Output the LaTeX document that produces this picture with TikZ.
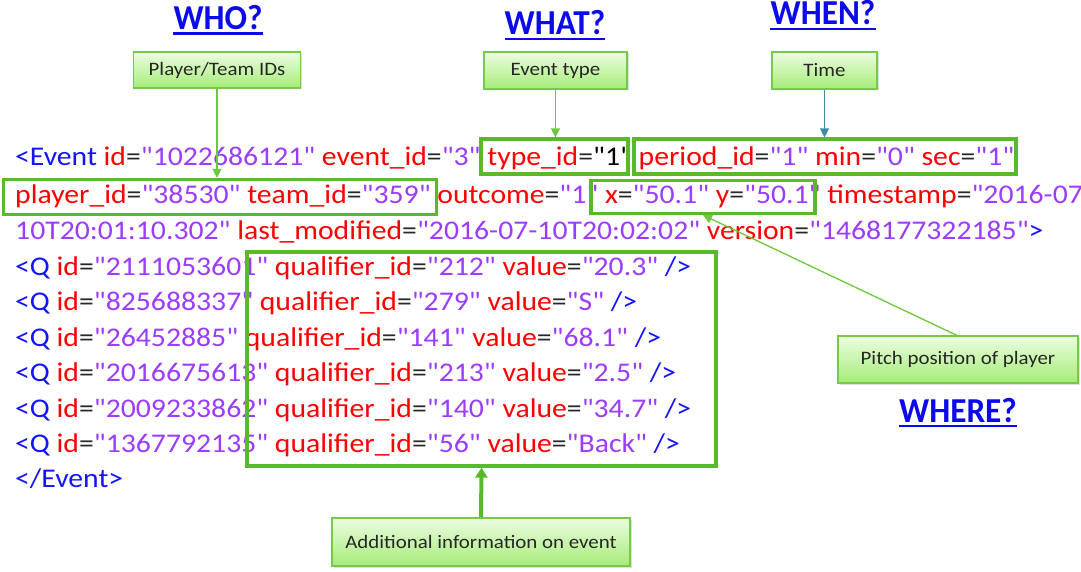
\documentclass[tikz,border=0pt]{standalone}
\usepackage{fontspec}
\setmainfont{Carlito}
\newfontfamily\xmlfont{Carlito}[FakeStretch=1.1]
\newfontfamily\labelfont{Carlito}[FakeStretch=1.1]
\newfontfamily\titlefont{Carlito}[FakeStretch=0.95]
\usetikzlibrary{arrows.meta,shadows}

\definecolor{tagblue}{RGB}{20,20,255}
\definecolor{attrred}{RGB}{255,0,0}
\definecolor{valpurple}{RGB}{155,60,255}
\definecolor{eqgray}{RGB}{40,40,40}
\definecolor{hlgreen}{RGB}{88,186,40}
\definecolor{pingreen}{RGB}{110,200,60}
\definecolor{boxtop}{RGB}{236,253,225}
\definecolor{boxbot}{RGB}{165,236,120}
\definecolor{boxedge}{RGB}{120,200,75}
\definecolor{timeteal}{RGB}{60,140,165}
\definecolor{titleblue}{RGB}{10,10,235}

% XML fragments
\newcommand\dq{\char34\relax}
\newcommand\xtag[1]{\textcolor{tagblue}{#1}}
\newcommand\xattr[2]{\textcolor{attrred}{#1}\textcolor{eqgray}{=}\textcolor{valpurple}{\dq#2\dq}}

\tikzset{
  xmlline/.style={anchor=base west, inner sep=0pt, font=\xmlfont\fontsize{27}{31}\selectfont},
  hlbox/.style={draw=hlgreen, line width=3.2pt, inner sep=0pt},
  labelbox/.style={draw=boxedge, line width=1.1pt, top color=boxtop, bottom color=boxbot,
    drop shadow={opacity=0.25, shadow xshift=1.5pt, shadow yshift=-1.5pt},
    inner sep=0pt, text=black!85, font=\labelfont\fontsize{19}{22}\selectfont},
  title/.style={anchor=base, inner sep=0pt, text=titleblue, font=\titlefont\bfseries\fontsize{35}{40}\selectfont},
  pin/.style={draw=pingreen, line width=1.3pt, -{Triangle[length=9pt,width=9pt]}},
}

\newcommand\titleline[1]{\draw[titleblue, line width=2.2pt] ([yshift=-4pt]#1.base west) -- ([yshift=-4pt]#1.base east);}

\begin{document}
\begin{tikzpicture}[x=1pt, y=-1pt]
\path[use as bounding box, fill=white] (0,0) rectangle (1081,572);

% event record
\node[xmlline] (l1) at (15,166) {\xtag{<Event} \xattr{id}{1022686121} \xattr{event\_id}{3} \textcolor{attrred}{type\_id}\textcolor{eqgray}{=}\dq1\dq\ \xattr{period\_id}{1} \xattr{min}{0} \xattr{sec}{1}};
\node[xmlline] (l2) at (15,204) {\xattr{player\_id}{38530} \xattr{team\_id}{359} \xattr{outcome}{1} \xattr{x}{50.1} \xattr{y}{50.1} \textcolor{attrred}{timestamp}\textcolor{eqgray}{=}\textcolor{valpurple}{\dq2016-07}};
\node[xmlline] (l3) at (15,239) {\textcolor{valpurple}{10T20:01:10.302\dq} \xattr{last\_modified}{2016-07-10T20:02:02} \xattr{version}{1468177322185}\xtag{>}};
\node[xmlline] (q1) at (15,275) {\xtag{<Q} \xattr{id}{2111053601} \xattr{qualifier\_id}{212} \xattr{value}{20.3} \xtag{/>}};
\node[xmlline] (q2) at (15,310) {\xtag{<Q} \xattr{id}{825688337} \xattr{qualifier\_id}{279} \xattr{value}{S} \xtag{/>}};
\node[xmlline] (q3) at (15,346) {\xtag{<Q} \xattr{id}{26452885} \xattr{qualifier\_id}{141} \xattr{value}{68.1} \xtag{/>}};
\node[xmlline] (q4) at (15,381) {\xtag{<Q} \xattr{id}{2016675613} \xattr{qualifier\_id}{213} \xattr{value}{2.5} \xtag{/>}};
\node[xmlline] (q5) at (15,417) {\xtag{<Q} \xattr{id}{2009233862} \xattr{qualifier\_id}{140} \xattr{value}{34.7} \xtag{/>}};
\node[xmlline] (q6) at (15,452) {\xtag{<Q} \xattr{id}{1367792135} \xattr{qualifier\_id}{56} \xattr{value}{Back} \xtag{/>}};
\node[xmlline] (l10) at (15,487) {\xtag{</Event>}};

% highlighted groups
\node[hlbox, minimum width=147pt, minimum height=35pt] (typebox) at (554.5,156.5) {};
\node[hlbox, minimum width=382pt, minimum height=35pt] (periodbox) at (825,156.5) {};
\node[hlbox, minimum width=433pt, minimum height=35pt] (playerbox) at (220,197) {};
\node[hlbox, minimum width=224pt, minimum height=33pt] (xybox) at (703,197) {};
\node[hlbox, minimum width=469pt, minimum height=214pt] (qbox) at (481.5,359) {};

% callouts
\node[labelbox, minimum width=167pt, minimum height=36pt] (who) at (217,70) {Player/Team IDs};
\node[labelbox, minimum width=143pt, minimum height=37pt] (what) at (555.5,70.5) {Event type};
\node[labelbox, minimum width=105pt, minimum height=37pt] (when) at (824.5,70.5) {Time};
\node[labelbox, minimum width=240pt, minimum height=47pt] (where) at (958,359.5) {Pitch position of player};
\node[labelbox, minimum width=298pt, minimum height=48pt] (extra) at (481,542) {Additional information on event};

% headings
\node[title] (twho) at (218,29.5) {WHO?};
\node[title] (twhat) at (555,35) {WHAT?};
\node[title] (twhen) at (823,25) {WHEN?};
\node[title] (twhere) at (958,422) {WHERE?};
\titleline{twho}
\titleline{twhat}
\titleline{twhen}
\titleline{twhere}

% pointers
\draw[pin] (who.south) -- (who.south |- playerbox.north);
\draw[pin] (what.south) -- (what.south |- typebox.north);
\draw[pin, draw=timeteal, -{Triangle[length=9pt,width=9pt,fill=timeteal]}] (when.south) -- (when.south |- periodbox.north);
\draw[pin] ([xshift=-1pt]where.north) -- (xybox.south);
\draw[draw=hlgreen, line width=4pt, -{Triangle[length=10pt,width=12pt]}] (extra.north) -- (qbox.south);
\end{tikzpicture}
\end{document}
